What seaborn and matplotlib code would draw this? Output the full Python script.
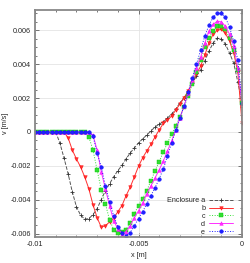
import numpy as np
import pandas as pd
import seaborn as sns
import matplotlib
matplotlib.use("Agg")
import matplotlib.pyplot as plt
from matplotlib.ticker import MultipleLocator, FuncFormatter

# ---------------- data (v in 1e-3 m/s) ----------------
x = [-0.0100, -0.0098, -0.0096, -0.0094, -0.0092, -0.0090, -0.0088, -0.0086, -0.0084, -0.0082,
     -0.0080, -0.0078, -0.0076, -0.0074, -0.0072, -0.0070, -0.0068, -0.0066, -0.0064, -0.0062,
     -0.0060, -0.0058, -0.0056, -0.0054, -0.0052, -0.0050, -0.0048, -0.0046, -0.0044, -0.0042,
     -0.0040, -0.0038, -0.0036, -0.0034, -0.0032, -0.0030, -0.0028, -0.0026, -0.0024, -0.0022,
     -0.0020, -0.0018, -0.0016, -0.0014, -0.0012, -0.0010, -0.0008, -0.0006, -0.0004, -0.0002,
     0.0000]

v_a = [0, 0, 0, 0, 0, 0, -0.65, -1.53, -2.47, -3.53,
       -4.41, -4.91, -5.15, -5.12, -4.88, -4.53, -4.00, -3.47, -3.06, -2.65,
       -2.29, -1.97, -1.59, -1.24, -0.94, -0.65, -0.41, -0.18, 0.06, 0.29,
       0.47, 0.59, 0.82, 1.06, 1.35, 1.71, 2.00, 2.41, 2.88, 3.30,
       3.65, 4.18, 4.76, 5.24, 5.53, 5.50, 5.18, 4.65, 4.06, 2.94,
       1.71]

v_b = [0, 0, 0, 0, 0, 0, 0, 0, -0.35, -1.06,
       -1.59, -2.06, -2.65, -3.35, -4.29, -5.06, -5.62, -5.53, -5.32, -5.09,
       -4.71, -4.35, -3.76, -3.26, -2.65, -2.03, -1.53, -1.12, -0.74, -0.29,
       0.12, 0.50, 0.71, 0.94, 1.29, 1.65, 2.00, 2.41, 2.88, 3.41,
       3.88, 4.53, 5.24, 5.76, 6.00, 6.06, 5.82, 5.35, 4.65, 3.53,
       0.53]

v_c = [0, 0, 0, 0, 0, 0, 0, 0, 0, 0,
       0, 0, 0, -0.29, -1.06, -2.24, -3.41, -4.24, -5.18, -5.76,
       -5.94, -5.88, -5.76, -5.35, -4.82, -4.35, -3.94, -3.47, -2.88, -2.29,
       -1.76, -1.18, -0.65, -0.12, 0.35, 0.88, 1.47, 2.12, 2.82, 3.53,
       4.24, 5.00, 5.53, 5.94, 6.24, 6.26, 6.06, 5.53, 4.82, 3.65,
       1.71]

v_d = [0, 0, 0, 0, 0, 0, 0, 0, 0, 0,
       0, 0, 0, 0, -0.18, -1.06, -2.35, -3.35, -4.35, -5.24,
       -5.71, -6.00, -5.88, -5.53, -5.06, -4.65, -4.18, -3.65, -3.18, -2.71,
       -2.24, -1.71, -1.12, -0.53, 0.12, 0.82, 1.53, 2.29, 3.06, 3.76,
       4.41, 5.24, 5.94, 6.35, 6.53, 6.50, 6.24, 5.76, 5.06, 3.76,
       1.71]

v_e = [0, 0, 0, 0, 0, 0, 0, 0, 0, 0,
       0, 0, 0, 0, -0.24, -1.24, -2.06, -3.18, -4.12, -4.94,
       -5.59, -5.94, -6.12, -5.94, -5.53, -5.12, -4.71, -4.24, -3.76, -3.29,
       -2.76, -2.18, -1.41, -0.65, 0.12, 0.82, 1.53, 2.35, 3.18, 4.00,
       4.82, 5.65, 6.29, 6.76, 7.00, 7.00, 6.76, 6.18, 5.35, 4.24,
       1.71]

labels = ["Enclosure a", "b", "c", "d", "e"]
series = [v_a, v_b, v_c, v_d, v_e]

df = pd.DataFrame({"x": x * 5,
                   "v": np.concatenate(series) * 1e-3,
                   "case": np.repeat(labels, len(x))})

#---------------- style ----------------
sns.set_style("ticks")
plt.rcParams['font.family'] = ['Liberation Sans', 'DejaVu Sans']
plt.rcParams['axes.unicode_minus'] = False

fig = plt.figure(figsize=(2.5, 2.63), dpi=100)
ax = fig.add_axes([0.14, 0.099, 0.828, 0.863])

styles = {
    "Enclosure a": dict(color="#555555", linestyle="--", marker="+", markersize=3.0,
                        markeredgecolor="#333333", markeredgewidth=0.6),
    "b": dict(color="#ff3030", linestyle="-", marker="v", markersize=2.6,
              markeredgecolor="#ff0000", markeredgewidth=0.3),
    "c": dict(color="#33dd33", linestyle=":", marker="s", markersize=2.4,
              markeredgecolor="#00cc00", markeredgewidth=0.3),
    "d": dict(color="#ff30ff", linestyle="-", marker="^", markersize=2.6,
              markeredgecolor="#ff00ff", markeredgewidth=0.3),
    "e": dict(color="#2020ff", linestyle=":", marker="o", markersize=2.6,
              markeredgecolor="#0000ff", markeredgewidth=0.3),
}

for lab in labels:
    sns.lineplot(data=df[df["case"] == lab], x="x", y="v", ax=ax,
                 label=lab, linewidth=0.7, **styles[lab])

ax.set_xlim(-0.01, 0)
ax.set_ylim(-0.0062, 0.0072)
ax.xaxis.set_major_locator(MultipleLocator(0.005))
ax.xaxis.set_minor_locator(MultipleLocator(0.001))
ax.yaxis.set_major_locator(MultipleLocator(0.002))
ax.yaxis.set_minor_locator(MultipleLocator(0.0005))
fmt = FuncFormatter(lambda v, p: "%g" % round(v, 6))
ax.xaxis.set_major_formatter(fmt)
ax.yaxis.set_major_formatter(fmt)

ax.grid(True, which="major", color="#e4e4e4", linewidth=0.6)
ax.set_axisbelow(True)
for s in ax.spines.values():
    s.set_color("#888888")
    s.set_linewidth(1.3)
ax.tick_params(which="both", direction="in", top=True, right=True,
               color="#444444", labelsize=5.2, pad=3)
ax.tick_params(which="major", length=3, width=0.5)
ax.tick_params(which="minor", length=1.5, width=0.5)

ax.set_xlabel("x [m]", fontsize=5.2, labelpad=3)
ax.set_ylabel("v [m/s]", fontsize=5.2, labelpad=1)

ax.legend(loc="lower right", bbox_to_anchor=(0.955, 0.005), frameon=False,
          markerfirst=False, fontsize=5.2, handlelength=3.3, handletextpad=0.5,
          labelspacing=0.12, borderpad=0, borderaxespad=0)

plt.savefig("out.png", dpi=100)
plt.close()
